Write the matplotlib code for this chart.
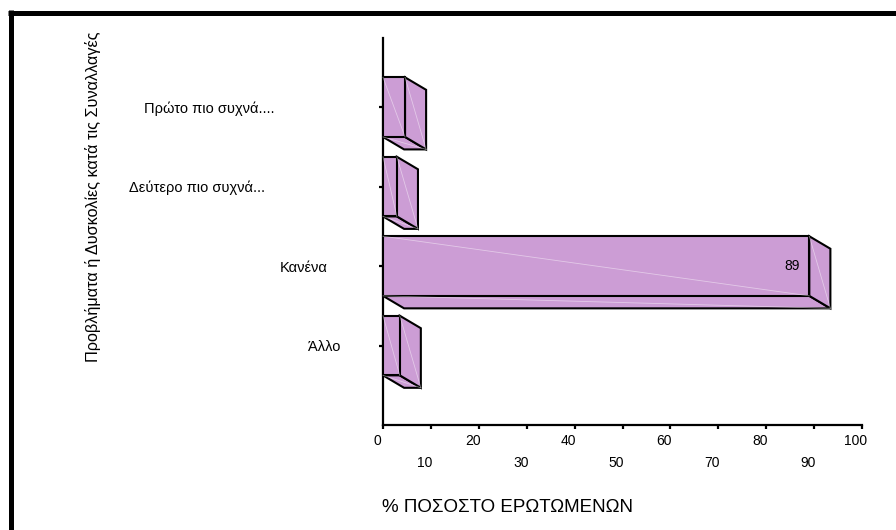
"""
Προβλήματα ή δυσκολίες κατά τις συναλλαγές - οριζόντιο ραβδόγραμμα με ψευδο-3Δ βάθος
"""

import matplotlib
matplotlib.use("Agg")
import matplotlib.pyplot as plt
from matplotlib import transforms
from matplotlib.patches import Polygon
from matplotlib.lines import Line2D

plt.rcParams["font.family"] = ["Liberation Sans", "DejaVu Sans"]

# bottom -> top
categories = ["Άλλο", "Κανένα", "Δεύτερο πιο συχνά...", "Πρώτο πιο συχνά...."]
values = [3.5, 89.0, 2.9, 4.6]
labelled_values = {"Κανένα": 89}

x_ticks = [0, 10, 20, 30, 40, 50, 60, 70, 80, 90, 100]

x_title = "% ΠΟΣΟΣΤΟ ΕΡΩΤΩΜΕΝΩΝ"
y_title = "Προβλήματα ή Δυσκολίες κατά τις Συναλλαγές"

# layout
W, H = 896, 530
label_x_px = [324, 304, 197, 209]   # centre of each category label
BAR_H = 0.75
DEPTH_X = 4.4      # data units
DEPTH_Y = 0.157    # category units
FACE = "#CC9DD5"

fig = plt.figure(figsize=(W / 100, H / 100), dpi=100)
ax = fig.add_axes([383 / W, (H - 425) / H, (862 - 383) / W, (425 - 38) / H])
ax.set_xlim(0, 100)
ax.set_ylim(-1.0, 3.87)

for i, (cat, v) in enumerate(zip(categories, values)):
    top, bot = i + BAR_H / 2, i - BAR_H / 2
    front = [(0, bot), (v, bot), (v, top), (0, top)]
    side = [(v, top), (v + DEPTH_X, top - DEPTH_Y), (v + DEPTH_X, bot - DEPTH_Y), (v, bot)]
    floor = [(0, bot), (v, bot), (v + DEPTH_X, bot - DEPTH_Y), (DEPTH_X, bot - DEPTH_Y)]
    for pts in (floor, side, front):
        ax.add_patch(Polygon(pts, closed=True, facecolor=FACE, edgecolor="black",
                             linewidth=1.5, joinstyle="miter", clip_on=False, zorder=3))
    # faint seams across the faces
    ax.plot([0, v], [top, bot], color="white", lw=0.6, alpha=0.45, zorder=4, clip_on=False)
    ax.plot([v, v + DEPTH_X], [top, bot - DEPTH_Y], color="white", lw=0.6, alpha=0.45,
            zorder=4, clip_on=False)
    ax.plot([0, v + DEPTH_X], [bot, bot - DEPTH_Y], color="white", lw=0.6, alpha=0.45,
            zorder=4, clip_on=False)
    if cat in labelled_values:
        ax.annotate(str(labelled_values[cat]), xy=(v, i), xytext=(-7, 0),
                    textcoords="offset points", ha="right", va="center",
                    fontsize=10, zorder=5)

# category labels
lab_tr = transforms.blended_transform_factory(fig.transFigure, ax.transData)
for i, cat in enumerate(categories):
    ax.text(label_x_px[i] / W, i - 0.02, cat, transform=lab_tr, ha="center", va="center",
            fontsize=10.5)

# axes styling
for s in ("top", "right"):
    ax.spines[s].set_visible(False)
for s in ("left", "bottom"):
    ax.spines[s].set_linewidth(1.6)
ax.set_yticks(range(len(categories)))
ax.set_yticklabels([])
ax.set_xticks(x_ticks)
ax.set_xticklabels([])
ax.tick_params(axis="both", length=3, width=1.6, direction="out")

# two staggered rows of x tick labels
xt = transforms.offset_copy(
    transforms.blended_transform_factory(ax.transData, fig.transFigure),
    fig=fig, x=-6, y=0, units="dots")
for j, t in enumerate(x_ticks):
    row_y = 441 if j % 2 == 0 else 463
    ax.text(t, (H - row_y) / H, str(t), transform=xt, ha="center", va="center",
            fontsize=10)

fig.text(507 / W, (H - 508) / H, x_title, ha="center", va="center", fontsize=13.5)
fig.text(93 / W, (H - 197) / H, y_title, rotation=90, ha="center", va="center",
         fontsize=11.7)

# thick frame on the top and left edges
fig.add_artist(Line2D([8 / W, 1], [(H - 12.5) / H] * 2, transform=fig.transFigure,
                      color="black", linewidth=3.6, solid_capstyle="butt"))
fig.add_artist(Line2D([10.5 / W] * 2, [0, (H - 10) / H], transform=fig.transFigure,
                      color="black", linewidth=3.6, solid_capstyle="butt"))

fig.savefig("out.png", dpi=100)
